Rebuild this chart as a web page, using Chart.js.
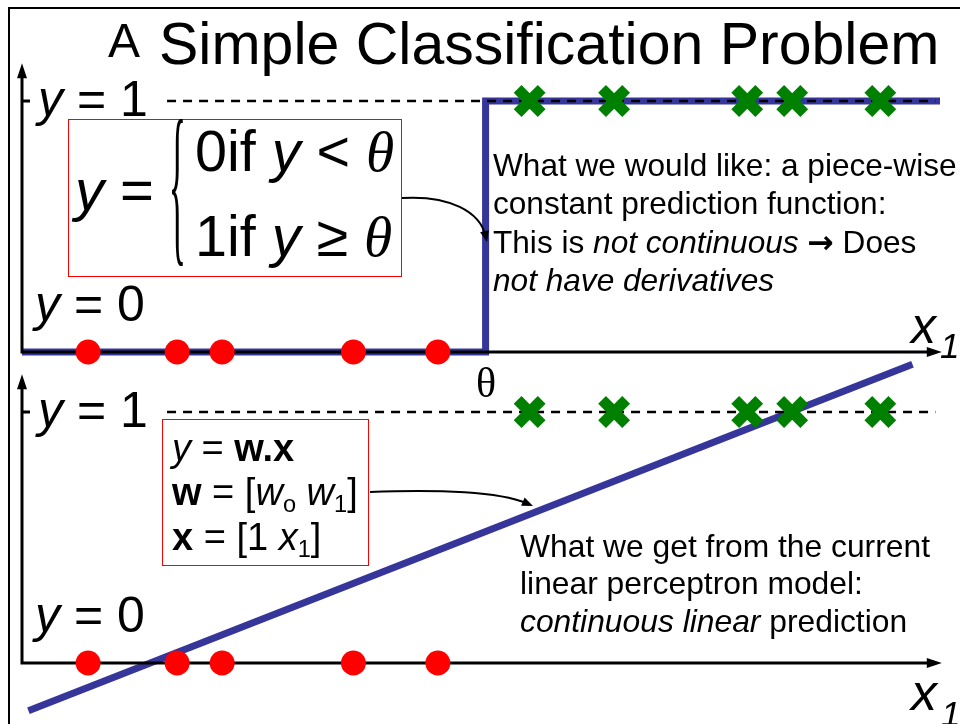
<!DOCTYPE html>
<html>
<head>
<meta charset="utf-8">
<title>A Simple Classification Problem</title>
<script src="https://cdn.jsdelivr.net/npm/chart.js@4.4.0/dist/chart.umd.min.js"></script>
<style>
  body { margin: 0; background: #fff; }
  #sahne { position: relative; width: 960px; height: 724px; overflow: hidden; background: #fff;
           font-family: "Liberation Sans", Arial, Helvetica, sans-serif; color: #000; }
  #sahne canvas { position: absolute; left: 0; top: 0; }
  .yazi { position: absolute; white-space: nowrap; line-height: 1; }
  .kutu { position: absolute; border: 1.5px solid #ff0000; box-sizing: border-box; }
  .serif { font-family: "Liberation Serif", "Times New Roman", serif; }
  .ok { font-family: "DejaVu Sans", sans-serif; font-weight: bold; }
  sub { font-size: 0.62em; vertical-align: -0.28em; line-height: 0; }
</style>
</head>
<body>
<div id="sahne">
  <canvas id="grafikUst" width="960" height="724"></canvas>
  <canvas id="grafikAlt" width="960" height="724"></canvas>
  <div class="kutu" style="left:68px;top:119px;width:334px;height:158px;"></div>
  <div class="kutu" style="left:162px;top:419px;width:207px;height:147px;"></div>
</div>
<script>
/* VERILER */
var redX = [0.72, 1.69, 2.18, 3.61, 4.53];     // y = 0 ornekleri
var greenX = [5.53, 6.45, 7.90, 8.39, 9.35];   // y = 1 ornekleri
var thetaX = 5.05;
var stepX = [0, thetaX, thetaX, 10];
var stepY = [0, 0, 1, 1];
var linearX = [0.07, 9.70];
var linearY = [-0.19, 1.19];
/* VERILER */

var mavi = "#35359a";

function okUcu(ctx, x, y, dx, dy, len, half) {
  var d = Math.sqrt(dx * dx + dy * dy);
  var ux = dx / d, uy = dy / d;
  ctx.beginPath();
  ctx.moveTo(x, y);
  ctx.lineTo(x - ux * len - uy * half, y - uy * len + ux * half);
  ctx.lineTo(x - ux * len + uy * half, y - uy * len - ux * half);
  ctx.closePath();
  ctx.fill();
}

var eksenPlugin = {
  id: "eksen",
  afterDatasetDraw: function (chart, args, opts) {
    // mavi model cizgisi once cizilir, eksenler onun ustune
    if (args.index !== 2) return;
    var ctx = chart.ctx, xs = chart.scales.x, ys = chart.scales.y;
    var x0 = xs.getPixelForValue(0), y0 = ys.getPixelForValue(0), y1 = ys.getPixelForValue(1);
    var xTip = xs.getPixelForValue(10.02), yTip = ys.getPixelForValue(1.15);
    ctx.save();
    ctx.strokeStyle = "#000";
    ctx.fillStyle = "#000";
    ctx.lineWidth = 3;
    ctx.beginPath();
    ctx.moveTo(x0, y0 + 1.5);
    ctx.lineTo(x0, yTip + 12);
    ctx.moveTo(x0 - 1.5, y0);
    ctx.lineTo(xTip - 12, y0);
    ctx.moveTo(x0, y1);
    ctx.lineTo(x0 + 8, y1);
    ctx.stroke();
    okUcu(ctx, x0, yTip, 0, -1, 15, 5);
    okUcu(ctx, xTip, y0, 1, 0, 15, 5);
    // y = 1 kesikli cizgi
    ctx.lineWidth = 2.5;
    ctx.setLineDash([9, 7]);
    ctx.beginPath();
    ctx.moveTo(xs.getPixelForValue(1.58), y1);
    ctx.lineTo(xs.getPixelForValue(9.95), y1);
    ctx.stroke();
    ctx.restore();
  },
  afterDraw: function (chart, args, opts) {
    var ctx = chart.ctx;
    ctx.save();
    ctx.strokeStyle = "#000";
    ctx.fillStyle = "#000";
    if (opts.frame) {
      ctx.lineWidth = 2;
      ctx.beginPath();
      ctx.moveTo(9, 724);
      ctx.lineTo(9, 8);
      ctx.lineTo(960, 8);
      ctx.stroke();
    }
    if (opts.curve) {
      var c = opts.curve;
      ctx.lineWidth = 2;
      ctx.beginPath();
      ctx.moveTo(c.from[0], c.from[1]);
      ctx.bezierCurveTo(c.c1[0], c.c1[1], c.c2[0], c.c2[1], c.to[0] - (c.to[0] - c.c2[0]) * 0.2, c.to[1] - (c.to[1] - c.c2[1]) * 0.2);
      ctx.stroke();
      okUcu(ctx, c.to[0], c.to[1], c.to[0] - c.c2[0], c.to[1] - c.c2[1], 11, 4.5);
    }
    ctx.restore();
  }
};

function grafikOlustur(canvasId, lineX, lineY, padTop, padBottom, ekstra) {
  var cizgi = lineX.map(function (x, i) { return { x: x, y: lineY[i] }; });
  return new Chart(document.getElementById(canvasId), {
    type: "scatter",
    data: {
      datasets: [{
        label: "y = 1",
        data: greenX.map(function (x) { return { x: x, y: 1 }; }),
        pointStyle: "crossRot",
        pointRadius: 17,
        pointBorderWidth: 11,
        pointBorderColor: "#008000",
        pointBackgroundColor: "#008000",
        clip: false
      }, {
        label: "y = 0",
        data: redX.map(function (x) { return { x: x, y: 0 }; }),
        pointStyle: "circle",
        pointRadius: 12.5,
        pointBorderWidth: 0,
        pointBackgroundColor: "#ff0000",
        clip: false
      }, {
        label: "model",
        data: cizgi,
        showLine: true,
        borderColor: mavi,
        borderWidth: 7,
        borderJoinStyle: "miter",
        pointRadius: 0,
        tension: 0,
        clip: false
      }]
    },
    options: {
      responsive: false,
      animation: false,
      events: [],
      layout: { autoPadding: false, padding: { left: 22, right: 20, top: padTop, bottom: padBottom } },
      scales: {
        x: { type: "linear", min: 0, max: 10, display: false },
        y: { type: "linear", min: 0, max: 1, display: false }
      },
      plugins: { legend: { display: false }, tooltip: { enabled: false }, eksen: ekstra }
    },
    plugins: [eksenPlugin]
  });
}

grafikOlustur("grafikUst", stepX, stepY, 101, 724 - 352,
  { frame: true, curve: { from: [402, 198], c1: [450, 195], c2: [480, 212], to: [487, 242] } });
grafikOlustur("grafikAlt", linearX, linearY, 412, 724 - 663,
  { frame: false, curve: { from: [370, 492], c1: [440, 489], c2: [500, 492], to: [533, 506] } });

/* YAZILAR */
function yaziKoy(html, left, baseline, size, cls) {
  var el = document.createElement("div");
  el.className = "yazi" + (cls ? " " + cls : "");
  el.style.fontSize = size + "px";
  el.style.left = left + "px";
  el.style.top = (baseline - size * (cls === "serif" ? 0.8375 : 0.8465)) + "px";
  el.innerHTML = html;
  document.getElementById("sahne").appendChild(el);
  return el;
}

yaziKoy("A", 108, 58, 48);
yaziKoy("Simple Classification Problem", 159, 65, 59);

yaziKoy("<i>y</i> = 1", 38, 116, 50);
yaziKoy("<i>y</i> = 0", 35, 321, 50);
yaziKoy("<i>y</i> = 1", 38, 427, 50);
yaziKoy("<i>y</i> = 0", 35, 632, 50);

yaziKoy("θ", 476, 397, 42, "serif");
yaziKoy("<i>x</i>", 911, 343, 50);
yaziKoy("<i>1</i>", 940, 358, 35);
yaziKoy("<i>x</i>", 911, 710, 52);
yaziKoy("<i>1</i>", 941, 726, 35);

yaziKoy("What we would like: a piece-wise", 493, 177, 31.6);
yaziKoy("constant prediction function:", 493, 215, 31.6);
yaziKoy("This is <i>not continuous</i> <span class=\"ok\">→</span> Does", 493, 254, 31.6);
yaziKoy("<i>not have derivatives</i>", 493, 292, 31.6);

yaziKoy("What we get from the current", 520, 558, 31.8);
yaziKoy("linear perceptron model:", 520, 595, 31.8);
yaziKoy("<i>continuous linear</i> prediction", 520, 633, 31.8);

// parcali fonksiyon kutusu
yaziKoy("<i>y</i> =", 75, 210, 58);
var parantez = yaziKoy("{", 162.6, 50 + 163, 60, "serif");
parantez.style.top = "163px";
parantez.style.transformOrigin = "14.4px 35px";
parantez.style.transform = "scale(0.6, 2.95)";
yaziKoy("0if <i>y</i> &lt; <span class=\"serif\"><i>θ</i></span>", 195, 172, 57.5);
yaziKoy("1if <i>y</i> ≥ <span class=\"serif\"><i>θ</i></span>", 195, 257, 57.5);

// dogrusal model kutusu
yaziKoy("<i>y</i> = <b>w.x</b>", 172, 461, 38);
yaziKoy("<b>w</b> = [<i>w</i><sub>o</sub> <i>w</i><sub>1</sub>]", 172, 505, 38);
yaziKoy("<b>x</b> = [1 <i>x</i><sub>1</sub>]", 172, 550, 38);
</script>
</body>
</html>
